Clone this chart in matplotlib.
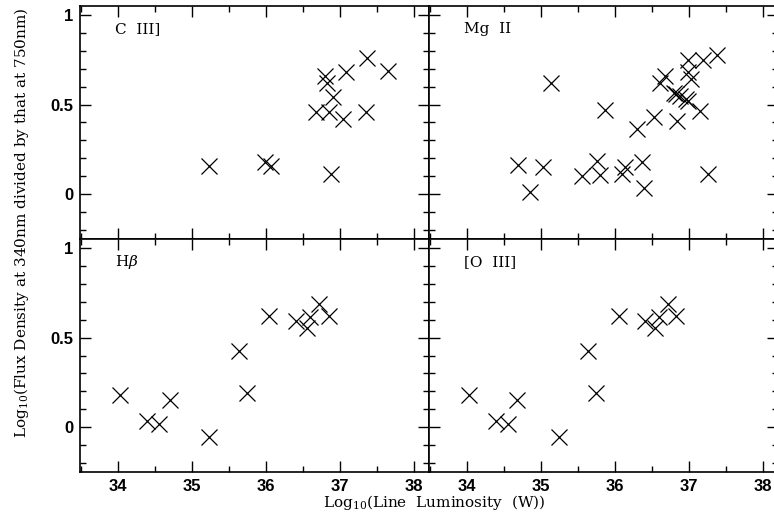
import matplotlib
matplotlib.use("Agg")
import matplotlib.pyplot as plt
from matplotlib.ticker import MultipleLocator

plt.rcParams['font.family'] = ['DejaVu Serif']
plt.rcParams['mathtext.fontset'] = 'dejavuserif'

# C III]
ciii_lum = [35.23, 35.99, 36.07, 36.67, 36.79, 36.83, 36.85, 36.90, 36.88,
            37.08, 37.04, 37.37, 37.35, 37.64]
ciii_ratio = [0.16, 0.18, 0.156, 0.46, 0.66, 0.62, 0.46, 0.54, 0.11,
              0.68, 0.42, 0.76, 0.46, 0.69]

# Mg II
mgii_lum = [34.69, 34.85, 35.03, 35.14, 35.55, 35.76, 35.80, 35.86, 36.09,
            36.13, 36.30, 36.36, 36.39, 36.52, 36.61, 36.68, 36.79, 36.83,
            36.88, 36.96, 36.99, 36.84, 36.98, 36.98, 37.03, 37.15, 37.19,
            37.26, 37.38]
mgii_ratio = [0.162, 0.013, 0.153, 0.62, 0.10, 0.184, 0.106, 0.47, 0.11,
              0.153, 0.365, 0.18, 0.032, 0.43, 0.62, 0.66, 0.566, 0.557,
              0.547, 0.53, 0.52, 0.41, 0.75, 0.68, 0.645, 0.464, 0.75,
              0.113, 0.776]

# H beta
hb_lum = [34.03, 34.39, 34.55, 34.70, 35.23, 35.64, 35.75, 36.04, 36.41,
          36.56, 36.60, 36.72, 36.85]
hb_ratio = [0.18, 0.037, 0.019, 0.154, -0.052, 0.426, 0.19, 0.62, 0.593,
            0.552, 0.615, 0.69, 0.62]

# [O III]
oiii_lum = [34.03, 34.40, 34.55, 34.68, 35.24, 35.64, 35.75, 36.05, 36.41,
            36.54, 36.59, 36.71, 36.83]
oiii_ratio = [0.18, 0.037, 0.019, 0.154, -0.052, 0.426, 0.19, 0.62, 0.593,
              0.552, 0.615, 0.69, 0.62]

panels = [
    ("C  III]", ciii_lum, ciii_ratio),
    ("Mg  II", mgii_lum, mgii_ratio),
    (r"H$\beta$", hb_lum, hb_ratio),
    ("[O  III]", oiii_lum, oiii_ratio),
]

W, H = 774, 517
fig = plt.figure(figsize=(W / 100, H / 100), dpi=100)

left, pw = 80 / W, 349 / W
bot, ph = 45 / H, 233 / H
positions = [
    (left, bot + ph), (left + pw, bot + ph),
    (left, bot), (left + pw, bot),
]


def fmt(v, pos):
    if abs(v) < 1e-9:
        return '0'
    if abs(v - 1) < 1e-9:
        return '1'
    return f'{v:g}'


for i, ((name, xs, ys), (x0, y0)) in enumerate(zip(panels, positions)):
    ax = fig.add_axes([x0, y0, pw, ph])
    ax.plot(xs, ys, linestyle='none', marker='x', color='black',
            markersize=11.5, markeredgewidth=0.9)
    ax.set_xlim(33.49, 38.2)
    ax.set_ylim(-0.25, 1.05)
    ax.xaxis.set_major_locator(MultipleLocator(1))
    ax.xaxis.set_minor_locator(MultipleLocator(0.5))
    ax.yaxis.set_major_locator(MultipleLocator(0.5))
    ax.yaxis.set_minor_locator(MultipleLocator(0.1))
    ax.yaxis.set_major_formatter(plt.FuncFormatter(fmt))
    ax.tick_params(which='both', direction='in', top=True, right=True,
                   labelsize=12, width=1)
    ax.tick_params(which='major', length=8, pad=5)
    ax.tick_params(which='minor', length=4.5)
    for lbl in ax.get_xticklabels() + ax.get_yticklabels():
        lbl.set_fontfamily('Liberation Sans')
        lbl.set_fontweight('bold')
    for s in ax.spines.values():
        s.set_linewidth(1.2)
    if i < 2:
        ax.tick_params(labelbottom=False)
    if i % 2 == 1:
        ax.tick_params(labelleft=False)
    ax.text(0.10, 0.90, name, transform=ax.transAxes, fontsize=11,
            ha='left', va='center')

fig.text(434 / W, 1 - 503 / H, r"Log$_{10}$(Line  Luminosity  (W))",
         ha='center', va='center', fontsize=11)
fig.text(22 / W, 1 - 223 / H,
         r"Log$_{10}$(Flux Density at 340nm divided by that at 750nm)",
         ha='center', va='center', rotation=90, fontsize=11)

fig.savefig("out.png", dpi=100)
